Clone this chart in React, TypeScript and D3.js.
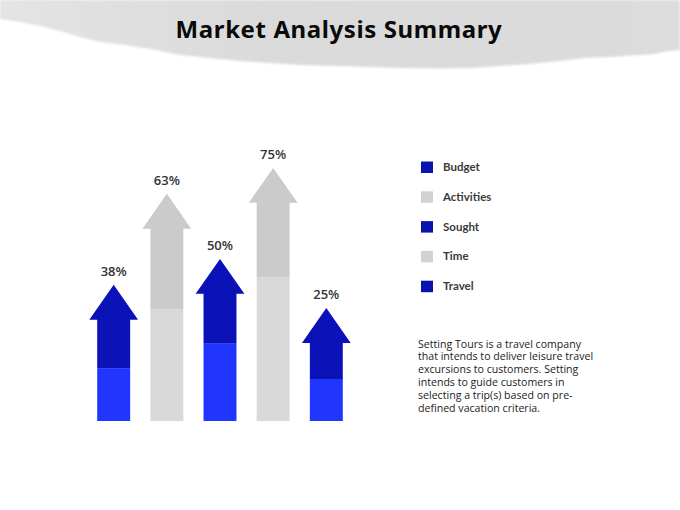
import React, { useEffect, useRef } from 'react';
import * as d3 from 'd3';

// categories in legend order (also the arrow order)
const categories: string[] = ['Budget', 'Activities', 'Sought', 'Time', 'Travel'];
// percentage printed above each arrow
const percentLabels: number[] = [38, 63, 50, 75, 25];
// level of each arrow tip (chart units 0-100)
const arrowTop: number[] = [40.4, 67.4, 48.1, 75.1, 33.5];
// level where the lighter lower part ends (chart units 0-100)
const arrowSplit: number[] = [15.7, 33.1, 23.1, 42.7, 12.5];
// which arrows are blue, which grey
const arrowTone: string[] = ['blue', 'grey', 'blue', 'grey', 'blue'];

const description: string[] = [
  'Setting Tours is a travel company',
  'that intends to deliver leisure travel',
  'excursions to customers. Setting',
  'intends to guide customers in',
  'selecting a trip(s) based on pre-',
  'defined vacation criteria.',
];

const palette: Record<string, { top: string; bottom: string; legend: string }> = {
  blue: { top: '#0a12b8', bottom: '#2036ff', legend: '#0a14ac' },
  grey: { top: '#cbcbcb', bottom: '#d9d9d9', legend: '#d2d2d2' },
};

const App: React.FC = () => {
  const svgRef = useRef<SVGSVGElement>(null);
  const width = 680;
  const height = 510;

  useEffect(() => {
    if (!svgRef.current) return;
    const svg = d3.select(svgRef.current);
    svg.selectAll('*').remove();

    // Brush-like banner behind the title
    const defs = svg.append('defs');
    const grad = defs.append('linearGradient')
      .attr('id', 'banner')
      .attr('x1', '0').attr('y1', '0').attr('x2', '1').attr('y2', '0');
    grad.append('stop').attr('offset', '0%').attr('stop-color', '#e4e4e4');
    grad.append('stop').attr('offset', '40%').attr('stop-color', '#dadada');
    grad.append('stop').attr('offset', '100%').attr('stop-color', '#dcdcdc');
    defs.append('filter').attr('id', 'soft')
      .append('feGaussianBlur').attr('stdDeviation', 0.8);

    const edge: [number, number][] = [
      [0, 0], [680, 0], [680, 50], [668, 51], [655, 54], [640, 55], [610, 57],
      [585, 58], [560, 61], [530, 64], [500, 66], [470, 68], [440, 68.5],
      [400, 68], [370, 67], [340, 66], [300, 65], [270, 63], [240, 61],
      [210, 58], [180, 55], [150, 49], [125, 45], [100, 42], [80, 37],
      [60, 31], [40, 26], [20, 22], [0, 19],
    ];
    svg.append('path')
      .attr('d', d3.line().curve(d3.curveLinearClosed)(edge))
      .attr('fill', 'url(#banner)')
      .attr('filter', 'url(#soft)');

    svg.append('text')
      .attr('x', 339)
      .attr('y', 38)
      .attr('text-anchor', 'middle')
      .attr('font-family', '"Noto Sans", sans-serif')
      .attr('font-weight', 700)
      .attr('font-size', 24)
      .attr('letter-spacing', 0.6)
      .attr('fill', '#0a0a0a')
      .text('Market Analysis Summary');

    // Scales
    const x = d3.scaleBand<string>()
      .domain(categories)
      .range([77, 363])
      .paddingInner(0.38)
      .paddingOuter(0.38);

    const y = d3.scaleLinear()
      .domain([0, 100])
      .range([421, 84]);

    const w = x.bandwidth();
    const headW = w * 1.48;
    const headH = w * 1.06;

    const arrows = svg.append('g');
    categories.forEach((cat, i) => {
      const x0 = x(cat) as number;
      const cx = x0 + w / 2;
      const tip = y(arrowTop[i]);
      const split = y(arrowSplit[i]);
      const base = y(0);
      const colors = palette[arrowTone[i]];

      arrows.append('rect')
        .attr('x', x0)
        .attr('y', split)
        .attr('width', w)
        .attr('height', base - split)
        .attr('fill', colors.bottom);

      const hb = tip + headH;
      const pts: [number, number][] = [
        [cx, tip], [cx + headW / 2, hb], [x0 + w, hb], [x0 + w, split],
        [x0, split], [x0, hb], [cx - headW / 2, hb],
      ];
      arrows.append('path')
        .attr('d', d3.line().curve(d3.curveLinearClosed)(pts))
        .attr('fill', colors.top);

      arrows.append('text')
        .attr('x', cx)
        .attr('y', tip - 9)
        .attr('text-anchor', 'middle')
        .attr('font-family', '"Open Sans", sans-serif')
        .attr('font-weight', 600)
        .attr('font-size', 13)
        .attr('fill', '#333')
        .text(`${percentLabels[i]}%`);
    });

    // Legend
    const legend = svg.append('g').attr('transform', 'translate(421,167)');
    categories.forEach((cat, i) => {
      const row = legend.append('g').attr('transform', `translate(0,${i * 29.8})`);
      row.append('rect')
        .attr('x', 0).attr('y', -5.5)
        .attr('width', 12).attr('height', 11.5)
        .attr('fill', palette[arrowTone[i]].legend);
      row.append('text')
        .attr('x', 22)
        .attr('y', 4)
        .attr('font-family', 'Lato, sans-serif')
        .attr('font-weight', 700)
        .attr('font-size', 11.5)
        .attr('fill', '#3a3a3a')
        .text(cat);
    });

    // Description paragraph
    const para = svg.append('text')
      .attr('font-family', '"Open Sans", sans-serif')
      .attr('font-size', 10.6)
      .attr('fill', '#222');
    description.forEach((line, i) => {
      para.append('tspan')
        .attr('x', 418)
        .attr('y', 347.5 + i * 12.9)
        .text(line);
    });
  }, []);

  return (
    <svg
      ref={svgRef}
      width={width}
      height={height}
      viewBox={`0 0 ${width} ${height}`}
      style={{ position: 'absolute', left: 0, top: 0, background: '#fff' }}
    />
  );
};

export default App;
